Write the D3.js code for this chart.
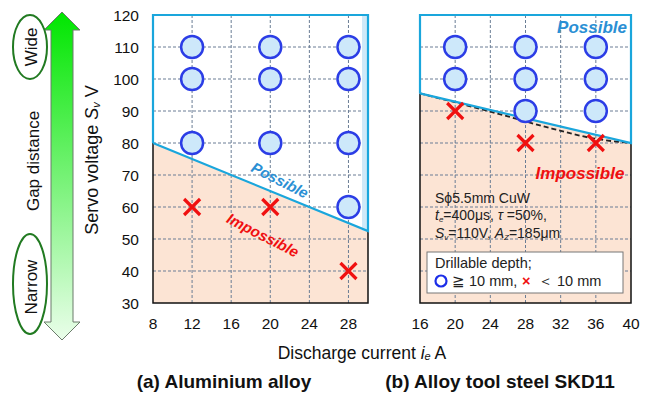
<!DOCTYPE html>
<html>
<head>
<meta charset="utf-8">
<script src="https://cdn.jsdelivr.net/npm/d3@7"></script>
<style>
  body { margin: 0; background: #fff; }
  svg { display: block; font-family: "Liberation Sans", Arial, sans-serif; }
</style>
</head>
<body>
<svg id="chart" width="664" height="396"></svg>
<script>
// Panel (a): aluminium alloy
const leftXTicks = [8, 12, 16, 20, 24, 28];
const leftCircles = [[12,110],[20,110],[28,110],[12,100],[20,100],[28,100],[12,80],[20,80],[28,80],[28,60]];
const leftCrosses = [[12,60],[20,60],[28,40]];
const leftBoundary = [[8,80],[30,52.5]];

// Panel (b): alloy tool steel SKD11
const rightXTicks = [16, 20, 24, 28, 32, 36, 40];
const rightCircles = [[20,110],[28,110],[36,110],[20,100],[28,100],[36,100],[28,90],[36,90]];
const rightCrosses = [[20,90],[28,80],[36,80]];
const rightBoundary = [[16,95.5],[40,80]];
const rightDashed = [[16,95.5],[21,92],[26,88.3],[31,84.5],[36,81.3],[40,80]];

const yTicks = [30, 40, 50, 60, 70, 80, 90, 100, 110, 120];

const svg = d3.select("#chart");
const y = d3.scaleLinear().domain([30, 120]).range([303, 15]);
const xL = d3.scaleLinear().domain([8, 30]).range([153, 368]);
const xR = d3.scaleLinear().domain([16, 40]).range([420, 631]);

const PEACH = "#fce4d4", BLUE_LINE = "#1aa6dc", CIRCLE_STROKE = "#2b3de6",
      CIRCLE_FILL = "#cde8fa", RED = "#f01010", GRID = "#6a7d95";

// Gradient for the gap-distance arrow
const defs = svg.append("defs");
const grad = defs.append("linearGradient").attr("id", "gapGrad")
  .attr("x1", 0).attr("y1", 0).attr("x2", 0).attr("y2", 1);
grad.append("stop").attr("offset", "0%").attr("stop-color", "#00e600");
grad.append("stop").attr("offset", "100%").attr("stop-color", "#eafeea");

svg.append("path")
  .attr("d", "M62,12 L44,30 L51,30 L51,322 L44,322 L62,340 L80,322 L73,322 L73,30 L80,30 Z")
  .attr("fill", "url(#gapGrad)").attr("stroke", "#6b7b6b").attr("stroke-width", 1);

svg.append("ellipse").attr("cx", 30).attr("cy", 47).attr("rx", 17).attr("ry", 32)
  .attr("fill", "none").attr("stroke", "#217a21").attr("stroke-width", 2);
svg.append("ellipse").attr("cx", 30).attr("cy", 284).attr("rx", 17).attr("ry", 50)
  .attr("fill", "none").attr("stroke", "#217a21").attr("stroke-width", 2);

function vtext(x, yc, txt, size) {
  return svg.append("text").attr("transform", `translate(${x},${yc}) rotate(-90)`)
    .attr("text-anchor", "middle").attr("dominant-baseline", "central")
    .attr("font-size", size).attr("fill", "#111").text(txt);
}
vtext(31, 47, "Wide", 17);
vtext(31, 287, "Narrow", 17);
vtext(33, 161, "Gap distance", 17);

// Y axis title with italic symbol
const yt = svg.append("text").attr("transform", "translate(92,160) rotate(-90)")
  .attr("text-anchor", "middle").attr("dominant-baseline", "central")
  .attr("font-size", 18).attr("fill", "#111");
yt.append("tspan").text("Servo voltage ");
yt.append("tspan").attr("font-style", "italic").text("S");
yt.append("tspan").attr("font-style", "italic").attr("font-size", 11).attr("dy", 4).text("v");
yt.append("tspan").attr("dy", -4).text(" V");

function drawPanel(x, xTicks, boundary, xMin, xMax) {
  const g = svg.append("g");
  const x0 = x(xMin), x1 = x(xMax), yTop = y(120), yBot = y(30);
  const b0 = [x(boundary[0][0]), y(boundary[0][1])];
  const b1 = [x(boundary[1][0]), y(boundary[1][1])];

  // Impossible region
  g.append("path").attr("d", d3.line()([b0, b1, [x1, yBot], [x0, yBot]]))
    .attr("fill", PEACH);

  // Grid
  const gx = xTicks.filter(t => t > xMin && t < xMax);
  g.selectAll(".gx").data(gx).join("line")
    .attr("x1", d => x(d)).attr("x2", d => x(d)).attr("y1", yTop).attr("y2", yBot)
    .attr("stroke", GRID).attr("stroke-width", 1).attr("stroke-dasharray", "3,2");
  g.selectAll(".gy").data(yTicks.filter(t => t > 30 && t < 120)).join("line")
    .attr("x1", x0).attr("x2", x1).attr("y1", d => y(d)).attr("y2", d => y(d))
    .attr("stroke", GRID).attr("stroke-width", 1).attr("stroke-dasharray", "3,2");

  // Black frame around impossible region
  g.append("path").attr("d", d3.line()([b0, [x0, yBot], [x1, yBot], b1]))
    .attr("fill", "none").attr("stroke", "#111").attr("stroke-width", 1.5);
  return {g, x0, x1, yTop, yBot, b0, b1};
}

function drawMarkers(g, x, circles, crosses) {
  g.selectAll(".c").data(circles).join("circle")
    .attr("cx", d => x(d[0])).attr("cy", d => y(d[1])).attr("r", 11)
    .attr("fill", CIRCLE_FILL).attr("stroke", CIRCLE_STROKE).attr("stroke-width", 2.5);
  const s = 8;
  g.selectAll(".x").data(crosses).join("path")
    .attr("d", d => {
      const cx = x(d[0]), cy = y(d[1]);
      return `M${cx-s},${cy-s}L${cx+s},${cy+s}M${cx+s},${cy-s}L${cx-s},${cy+s}`;
    })
    .attr("stroke", RED).attr("stroke-width", 3.2).attr("fill", "none");
}

// ---- Panel (a)
const L = drawPanel(xL, leftXTicks, leftBoundary, 8, 30);
L.g.append("rect").attr("x", L.x1 - 6).attr("y", L.yTop).attr("width", 6)
  .attr("height", L.b1[1] - L.yTop).attr("fill", "#cfe9f8");
L.g.append("path").attr("d", d3.line()([L.b0, [L.x0, L.yTop], [L.x1, L.yTop], L.b1, L.b0]))
  .attr("fill", "none").attr("stroke", BLUE_LINE).attr("stroke-width", 2.2);
drawMarkers(L.g, xL, leftCircles, leftCrosses);

// ---- Panel (b)
const R = drawPanel(xR, rightXTicks, rightBoundary, 16, 40);
R.g.append("path").attr("d", d3.line().curve(d3.curveMonotoneX)(rightDashed.map(d => [xR(d[0]), y(d[1])])))
  .attr("fill", "none").attr("stroke", "#222").attr("stroke-width", 1.8).attr("stroke-dasharray", "5,3");
R.g.append("path").attr("d", d3.line()([R.b0, [R.x0, R.yTop], [R.x1, R.yTop], R.b1, R.b0]))
  .attr("fill", "none").attr("stroke", BLUE_LINE).attr("stroke-width", 2.2);
drawMarkers(R.g, xR, rightCircles, rightCrosses);

// Y tick labels
svg.selectAll(".yl").data(yTicks).join("text")
  .attr("x", 139).attr("y", d => y(d)).attr("text-anchor", "end")
  .attr("dominant-baseline", "central").attr("font-size", 15.5).attr("fill", "#111")
  .text(d => d);

// X tick labels
svg.selectAll(".xll").data(leftXTicks).join("text")
  .attr("x", d => xL(d)).attr("y", 323).attr("text-anchor", "middle")
  .attr("dominant-baseline", "central").attr("font-size", 15.5).attr("fill", "#111").text(d => d);
svg.selectAll(".xlr").data(rightXTicks).join("text")
  .attr("x", d => xR(d)).attr("y", 323).attr("text-anchor", "middle")
  .attr("dominant-baseline", "central").attr("font-size", 15.5).attr("fill", "#111").text(d => d);

// Region labels
function regionLabel(x, yy, angle, txt, color, size) {
  svg.append("text").attr("transform", `translate(${x},${yy}) rotate(${angle})`)
    .attr("text-anchor", "middle").attr("dominant-baseline", "central")
    .attr("font-size", size).attr("font-weight", "bold").attr("font-style", "italic")
    .attr("fill", color).text(txt);
}
regionLabel(280, 180, 27, "Possible", "#2a8fd4", 15);
regionLabel(263, 235, 27, "Impossible", "#f01010", 15);
regionLabel(592, 27, 0, "Possible", "#2a8fd4", 17);
regionLabel(580, 173, 0, "Impossible", "#f01010", 17);

// Machining conditions
const cond = svg.append("g").attr("font-size", 14).attr("fill", "#222");
cond.append("text").attr("x", 435).attr("y", 203).text("Sϕ5.5mm CuW");
const c2 = cond.append("text").attr("x", 435).attr("y", 220);
c2.append("tspan").attr("font-style", "italic").text("t");
c2.append("tspan").attr("font-style", "italic").attr("font-size", 8).attr("dy", 2).text("e");
c2.append("tspan").attr("dy", -2).text("=400μs, ");
c2.append("tspan").attr("font-style", "italic").text("τ");
c2.append("tspan").text(" =50%,");
const c3 = cond.append("text").attr("x", 435).attr("y", 238);
c3.append("tspan").attr("font-style", "italic").text("S");
c3.append("tspan").attr("font-style", "italic").attr("font-size", 8).attr("dy", 2).text("v");
c3.append("tspan").attr("dy", -2).text("=110V, ");
c3.append("tspan").attr("font-style", "italic").text("A");
c3.append("tspan").attr("font-style", "italic").attr("font-size", 8).attr("dy", 2).text("Z");
c3.append("tspan").attr("dy", -2).text("=185μm");

// Legend box
svg.append("rect").attr("x", 427).attr("y", 252).attr("width", 196).attr("height", 41)
  .attr("fill", "#fff").attr("stroke", "#777").attr("stroke-width", 1);
svg.append("text").attr("x", 435).attr("y", 268).attr("font-size", 14.5).attr("fill", "#222")
  .text("Drillable depth;");
svg.append("circle").attr("cx", 441).attr("cy", 281).attr("r", 5.5)
  .attr("fill", "none").attr("stroke", "#1c2ee8").attr("stroke-width", 2.2);
const lg = svg.append("text").attr("y", 286).attr("font-size", 14.5).attr("fill", "#222");
lg.append("tspan").attr("x", 452).text("≧ 10 mm,");
lg.append("tspan").attr("x", 522).attr("fill", "#f01010").attr("font-weight", "bold").text("×");
lg.append("tspan").attr("x", 538).text("＜ 10 mm");

// X axis title
const xt = svg.append("text").attr("x", 362).attr("y", 353).attr("text-anchor", "middle")
  .attr("dominant-baseline", "central").attr("font-size", 17.5).attr("fill", "#111");
xt.append("tspan").text("Discharge current ");
xt.append("tspan").attr("font-style", "italic").text("i");
xt.append("tspan").attr("font-style", "italic").attr("font-size", 11).attr("dy", 3).text("e");
xt.append("tspan").attr("dy", -3).text(" A");

// Panel captions
svg.append("text").attr("x", 224).attr("y", 381).attr("text-anchor", "middle")
  .attr("dominant-baseline", "central").attr("font-size", 19).attr("font-weight", "bold")
  .attr("fill", "#111").text("(a) Aluminium alloy");
svg.append("text").attr("x", 500).attr("y", 381).attr("text-anchor", "middle")
  .attr("dominant-baseline", "central").attr("font-size", 19).attr("font-weight", "bold")
  .attr("fill", "#111").text("(b) Alloy tool steel SKD11");
</script>
</body>
</html>
